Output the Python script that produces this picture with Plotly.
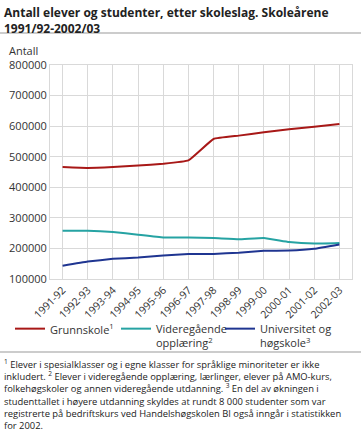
import plotly.graph_objects as go

years = ["1991-92", "1992-93", "1993-94", "1994-95", "1995-96", "1996-97",
         "1997-98", "1998-99", "1999-00", "2000-01", "2001-02", "2002-03"]
grunnskole = [466000, 463000, 466000, 471000, 477000, 488000,
              558000, 569000, 580000, 590000, 598000, 607000]
videregaende = [258000, 258000, 254000, 245000, 236000, 236000,
                234000, 230000, 234000, 221000, 216000, 218000]
universitet = [143000, 157000, 166000, 170000, 177000, 182000,
               182000, 186000, 192000, 193000, 199000, 213000]

series = [
    ("Grunnskole<sup>1</sup>", grunnskole, "#a81817", "legend"),
    ("Videregående<br>opplæring<sup>2</sup>", videregaende, "#26a3a3", "legend2"),
    ("Universitet og<br>høgskole<sup>3</sup>", universitet, "#1f3591", "legend3"),
]

FONT = "Open Sans"
fig = go.Figure()
for name, vals, col, leg in series:
    fig.add_trace(go.Scatter(
        x=years, y=vals, name=name, mode="lines", legend=leg,
        line=dict(color=col, width=2, shape="spline", smoothing=0.3),
    ))

L, R, T, B = 50, 9, 65, 161
W, H = 361, 440
pw, ph = W - L - R, H - T - B

def px(x):
    return (x - L) / pw

def py(y):
    return (H - B - y) / ph

def leg(x):
    return dict(orientation="h", x=px(x), xanchor="left", y=py(315), yanchor="top",
                font=dict(size=11, color="#333333"), itemwidth=30,
                bgcolor="rgba(0,0,0,0)", valign="top")

footnote = ("<sup>1</sup> Elever i spesialklasser og i egne klasser for språklige minoriteter er ikke<br>"
            "inkludert. <sup>2</sup> Elever i videregående opplæring, lærlinger, elever på AMO-kurs,<br>"
            "folkehøgskoler og annen videregående utdanning. <sup>3</sup> En del av økningen i<br>"
            "studenttallet i høyere utdanning skyldes at rundt 8 000 studenter som var<br>"
            "registrerte på bedriftskurs ved Handelshøgskolen BI også inngår i statistikken<br>"
            "for 2002.")

fig.update_layout(
    width=W, height=H,
    margin=dict(l=L, r=R, t=T, b=B, autoexpand=False),
    paper_bgcolor="white", plot_bgcolor="white",
    font=dict(family=FONT, size=11, color="#333333"),
    showlegend=True,
    legend=leg(10), legend2=leg(116), legend3=leg(220),
    xaxis=dict(type="category", tickangle=-45, range=[-0.5, 11.5],
               showgrid=True, gridcolor="#d9d9d9", gridwidth=1,
               showline=True, linecolor="#d9d9d9", mirror=True,
               ticks="", tickfont=dict(size=10.5), fixedrange=True),
    yaxis=dict(range=[100000, 800000], dtick=100000, tickformat="d",
               showgrid=True, gridcolor="#d9d9d9", gridwidth=1,
               showline=True, linecolor="#d9d9d9", mirror=True,
               ticks="", tickfont=dict(size=11), zeroline=False, fixedrange=True),
    annotations=[
        dict(text="<b>Antall elever og studenter, etter skoleslag. Skoleårene<br>1991/92-2002/03</b>",
             xref="paper", yref="paper", x=px(2), y=py(2), xanchor="left", yanchor="top",
             align="left", showarrow=False, font=dict(size=12, color="#222222", family=FONT)),
        dict(text="Antall", xref="paper", yref="paper", x=px(7), y=py(41),
             xanchor="left", yanchor="top", showarrow=False, font=dict(size=11, color="#333333")),
        dict(text=footnote, xref="paper", yref="paper", x=px(2), y=py(355),
             xanchor="left", yanchor="top", align="left", showarrow=False,
             font=dict(size=9.4, color="#222222")),
    ],
    shapes=[
        dict(type="line", xref="paper", yref="paper", x0=px(0), x1=px(W), y0=py(33), y1=py(33),
             line=dict(color="#999999", width=1)),
        dict(type="line", xref="paper", yref="paper", x0=px(0), x1=px(W), y0=py(352), y1=py(352),
             line=dict(color="#999999", width=1)),
    ],
)

fig.write_html("out.html", config={"displayModeBar": False},
               post_script="document.body.style.margin='0';")
